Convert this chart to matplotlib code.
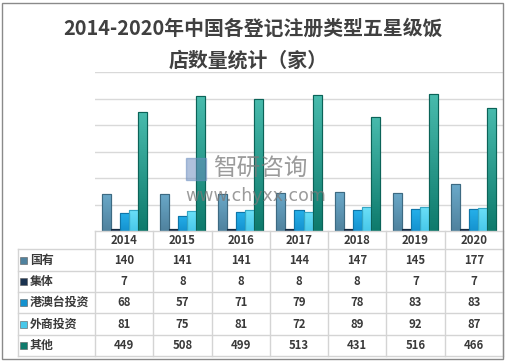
import numpy as np
import matplotlib.pyplot as plt
from matplotlib.patches import Rectangle

plt.rcParams['font.family'] = ['Noto Sans CJK SC', 'DejaVu Sans']

years = ['2014', '2015', '2016', '2017', '2018', '2019', '2020']
series = ['国有', '集体', '港澳台投资', '外商投资', '其他']
guoyou = [140, 141, 141, 144, 147, 145, 177]
jiti = [7, 8, 8, 8, 8, 7, 7]
gangaotai = [68, 57, 71, 79, 78, 83, 83]
waishang = [81, 75, 81, 72, 89, 92, 87]
qita = [449, 508, 499, 513, 431, 516, 466]
values = [guoyou, jiti, gangaotai, waishang, qita]

# top colour, bottom colour, edge
colors = [('#6aa9c9', '#50829e', '#3d6a82'),
          ('#2a4a6a', '#1a3350', '#142a40'),
          ('#25b0ea', '#1592cf', '#0f76a8'),
          ('#6be0f7', '#48c8ea', '#36a6c4'),
          ('#48bbad', '#0e7a6c', '#0b6358')]

W, H = 508, 363
fig = plt.figure(figsize=(W / 100, H / 100), dpi=100)

def fx(px):
    return px / W

def fy(py):
    return 1 - py / H

# chart border
fig.patches.append(Rectangle((fx(2), fy(359)), fx(501), (359 - 3) / H,
                             transform=fig.transFigure, fill=False,
                             edgecolor='#8a8a8a', lw=1.0))

fig.text(fx(253), fy(28), '2014-2020年中国各登记注册类型五星级饭', ha='center', va='center',
         fontsize=14.3, fontweight='bold', color='#404040')
fig.text(fx(248), fy(60), '店数量统计（家）', ha='center', va='center',
         fontsize=14.3, fontweight='bold', color='#404040')

# bar area
ax = fig.add_axes([fx(95), fy(231), fx(408), (231 - 72) / H])
ax.set_xlim(-0.5, 6.5)
ax.set_ylim(0, 600)
ax.set_yticks(np.arange(100, 601, 100))
ax.yaxis.grid(True, color='#d9d9d9', lw=1)
ax.set_axisbelow(True)
ax.tick_params(left=False, bottom=False, labelleft=False, labelbottom=False)
for s in ax.spines.values():
    s.set_visible(False)

x = np.arange(len(years))
bw = 0.155
grad = np.linspace(0, 1, 64).reshape(-1, 1)
for i, vals in enumerate(values):
    top, bot, edge = colors[i]
    cmap = plt.matplotlib.colors.LinearSegmentedColormap.from_list('g%d' % i, [bot, top])
    bars = ax.bar(x + (i - 2) * bw, vals, width=bw, color=top, edgecolor=edge, lw=0.8, zorder=2)
    for b in bars:
        x0, y0 = b.get_x(), b.get_y()
        im = ax.imshow(grad, cmap=cmap, aspect='auto', origin='lower',
                       extent=(x0, x0 + b.get_width(), y0, y0 + b.get_height()), zorder=2.5)
        im.set_clip_path(b)
        ax.add_patch(Rectangle((x0, y0), b.get_width(), b.get_height(), fill=False,
                               edgecolor=edge, lw=0.8, zorder=3))
ax.set_xlim(-0.5, 6.5)
ax.set_ylim(0, 600)

# watermark
fig.text(fx(213), fy(169), '智研咨询', ha='left', va='center', fontsize=17,
         color='#7a7a7a', alpha=0.75, zorder=10)
fig.text(fx(185), fy(196), 'www.chyxx.com', ha='left', va='center', fontsize=12.5,
         color='#7a7a7a', alpha=0.75, zorder=10, family='DejaVu Sans')
fig.patches.append(Rectangle((fx(186), fy(180)), fx(20), 22 / H, transform=fig.transFigure,
                             color='#6d8fc0', alpha=0.55, zorder=10))

# data table
unit = 408 / 7
tab = fig.add_axes([fx(18), fy(357), fx(485), (357 - 231) / H])
xl = -0.5 - 77 / unit
tab.set_xlim(xl, 6.5)
tab.set_ylim(357, 231)
tab.axis('off')
row_y = [231, 249, 271, 292, 313, 335, 356]
gc = '#d4d4d4'
for k, yy in enumerate(row_y):
    tab.plot([-0.5 if k == 0 else xl, 6.5], [yy, yy], color=gc, lw=1, clip_on=False)
tab.plot([xl, xl], [249, 356], color=gc, lw=1, clip_on=False)
for j in range(8):
    tab.plot([j - 0.5, j - 0.5], [231, 356], color=gc, lw=1, clip_on=False)
tc = '#3a3a3a'
for j, yr in enumerate(years):
    tab.text(j, 240, yr, ha='center', va='center', fontsize=8.2, color=tc, fontweight='bold')
for i, name in enumerate(series):
    yc = (row_y[i + 1] + row_y[i + 2]) / 2
    tab.add_patch(Rectangle((xl + 2 / unit, yc - 3.5), 7 / unit, 7, facecolor=colors[i][1],
                            edgecolor='#5a5a5a', lw=0.4, clip_on=False))
    tab.text(xl + 12 / unit, yc, name, ha='left', va='center', fontsize=8.6, color=tc,
             fontweight='bold')
    for j, v in enumerate(values[i]):
        tab.text(j, yc, str(v), ha='center', va='center', fontsize=8.2, color=tc,
                 fontweight='bold')

fig.savefig('out.png', dpi=100)
